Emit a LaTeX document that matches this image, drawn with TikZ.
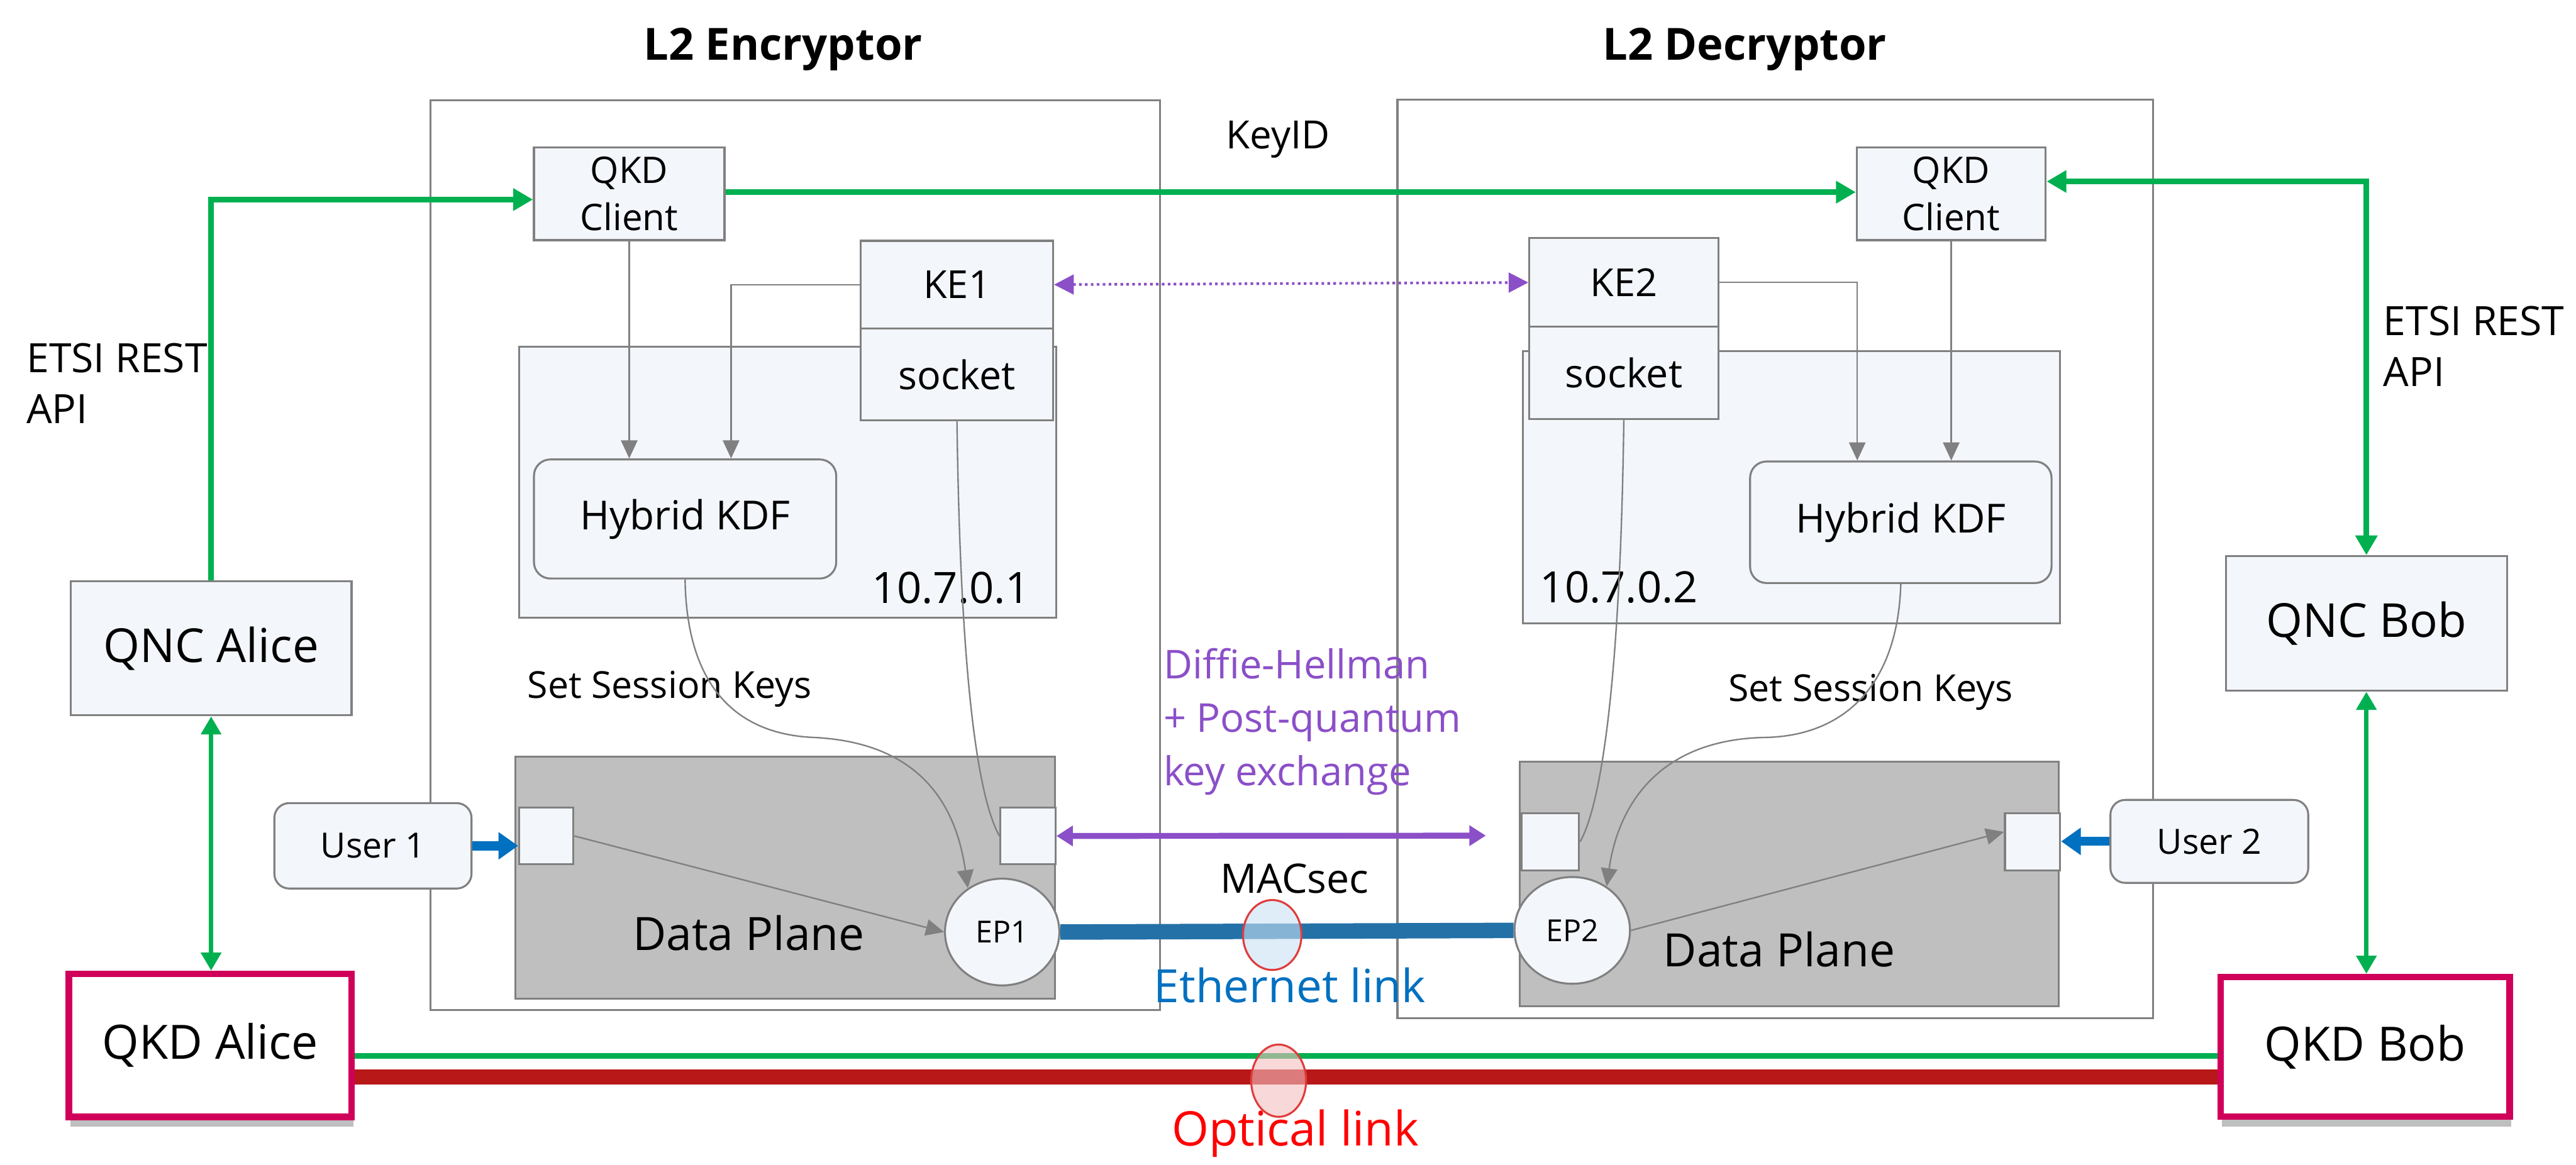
\documentclass[tikz,border=0pt]{standalone}
\usepackage{fontspec}
\setmainfont{Open Sans}
\usetikzlibrary{arrows.meta,shadows,calc,shapes.geometric}
\definecolor{boxfill}{HTML}{F3F6FB}
\definecolor{boxline}{HTML}{808080}
\definecolor{dpfill}{HTML}{BFBFBF}
\definecolor{qgreen}{HTML}{00B050}
\definecolor{qpurple}{HTML}{8B4FC8}
\definecolor{ublue}{HTML}{0070C0}
\definecolor{ethblue}{HTML}{2471A8}
\definecolor{optred}{HTML}{B81818}
\definecolor{qkdred}{HTML}{D0005A}
\definecolor{markred}{HTML}{E03C3C}
\newcommand{\setfs}[2]{\fontsize{#1}{#2}\selectfont}
\begin{document}
\begin{tikzpicture}[x=1pt,y=-1pt,
  obox/.style={draw=boxline, line width=1.2pt, rectangle, inner sep=0pt},
  box/.style={draw=boxline, line width=1.2pt, fill=boxfill, rectangle, inner sep=0pt},
  dpbox/.style={draw=boxline, line width=1.2pt, fill=dpfill, rectangle, inner sep=0pt},
  qkdbox/.style={draw=qkdred, line width=4pt, fill=white, rectangle, inner sep=0pt,
    drop shadow={shadow xshift=1pt, shadow yshift=-6pt, opacity=0.25, fill=black},
    font=\setfs{28.8}{33}},
  lbl/.style={inner sep=0pt},
  titlefont/.style={inner sep=0pt, font=\bfseries\setfs{27}{32}},
  gline/.style={draw=boxline, line width=0.9pt},
  garr/.style={-{Triangle[width=10pt,length=11pt]}},
  greenline/.style={draw=qgreen, line width=3.4pt},
]
\useasboundingbox (0,0) rectangle (1568,709);

% outer boxes and titles
\node[obox, minimum width=444pt, minimum height=554pt] (enc) at (484,338) {};
\node[obox, minimum width=460pt, minimum height=559.5pt] (dec) at (1080.6,340.3) {};
\node[titlefont] (encT) at (476.6,30) {L2 Encryptor};
\node[titlefont] (decT) at (1062,30) {L2 Decryptor};
\node[lbl, font=\setfs{23.7}{28}] (keyid) at (778,85) {KeyID};

% inner regions
\node[box, minimum width=327pt, minimum height=165pt] (regL) at (479.5,293.5) {};
\node[box, minimum width=327pt, minimum height=165.5pt] (regR) at (1090.5,296.7) {};
\node[box, rounded corners=10pt, minimum width=184pt, minimum height=72.5pt, font=\setfs{24.4}{28}] (hkdfL) at (417,316) {Hybrid KDF};
\node[box, rounded corners=10pt, minimum width=183.5pt, minimum height=74pt, font=\setfs{24.4}{28}] (hkdfR) at (1157,318) {Hybrid KDF};
\node[lbl, font=\setfs{26.3}{30}] (ipL) at (579,358) {10.7.0.1};
\node[lbl, font=\setfs{26.3}{30}] (ipR) at (985.5,357.7) {10.7.0.2};

\node[box, minimum width=116pt, minimum height=56.5pt, align=center, font=\setfs{22.3}{29}] (qkdcL) at (383,118) {QKD\\Client};
\node[box, minimum width=115pt, minimum height=56.5pt, align=center, font=\setfs{22.3}{29}] (qkdcR) at (1187.7,118) {QKD\\Client};
\node[box, minimum width=117pt, minimum height=53.4pt, font=\setfs{23.5}{28}] (ke1) at (582.5,173.3) {KE1};
\node[box, minimum width=117pt, minimum height=56pt, font=\setfs{24}{28}] (sock1) at (582.5,228) {socket};
\node[box, minimum width=115pt, minimum height=54.3pt, font=\setfs{23.5}{28}] (ke2) at (988.4,172) {KE2};
\node[box, minimum width=115pt, minimum height=56pt, font=\setfs{24}{28}] (sock2) at (988.4,227) {socket};

% QNC / QKD
\node[box, minimum width=171pt, minimum height=81.6pt, font=\setfs{28.5}{33}] (qncA) at (128.5,394.8) {QNC Alice};
\node[box, minimum width=171pt, minimum height=82pt, font=\setfs{28.5}{33}] (qncB) at (1440.4,379.6) {QNC Bob};

% data planes
\node[dpbox, minimum width=328.5pt, minimum height=147.4pt] (dpL) at (478,534.3) {};
\node[dpbox, minimum width=328pt, minimum height=149pt] (dpR) at (1089,538.3) {};
\node[lbl, font=\setfs{28}{32}] (dpLt) at (455.7,568) {Data Plane};
\node[lbl, font=\setfs{28}{32}] (dpRt) at (1083,578) {Data Plane};
\node[box, minimum width=33pt, minimum height=34.5pt] (pL1) at (332.5,509) {};
\node[box, minimum width=33.5pt, minimum height=34.5pt] (pL2) at (625.7,509) {};
\node[box, minimum width=35pt, minimum height=35pt] (pR1) at (943.7,512.5) {};
\node[box, minimum width=33.6pt, minimum height=35pt] (pR2) at (1237.2,512.5) {};
\node[box, ellipse, minimum width=69.6pt, minimum height=65pt, font=\setfs{18.5}{22}] (ep1) at (610,567.5) {EP1};
\node[box, ellipse, minimum width=70.3pt, minimum height=65pt, font=\setfs{18.5}{22}] (ep2) at (957,566.5) {EP2};

\node[box, rounded corners=9pt, minimum width=120pt, minimum height=52pt, font=\setfs{21.2}{25}] (user1) at (227,515) {User 1};
\node[box, rounded corners=9pt, minimum width=120.4pt, minimum height=50.5pt, font=\setfs{21.2}{25}] (user2) at (1344.8,512.3) {User 2};

% labels
\node[lbl, font=\setfs{22.6}{26}] (sskL) at (407.5,419.6) {Set Session Keys};
\node[lbl, font=\setfs{22.6}{26}] (sskR) at (1138.6,421.6) {Set Session Keys};
\node[lbl, anchor=west, align=left, font=\setfs{24.6}{31}] (etsiL) at (16,233.5) {ETSI REST\\API};
\node[lbl, anchor=west, align=left, font=\setfs{24.6}{31}] (etsiR) at (1450.6,211) {ETSI REST\\API};
\node[lbl, anchor=west, align=left, text=qpurple, font=\setfs{24.2}{32.5}] (dh) at (708,439.5) {Diffie-Hellman\\+ Post-quantum\\key exchange};
\node[lbl, font=\setfs{24.7}{28}] (macsec) at (788,535) {MACsec};
\node[lbl, text=ublue, font=\setfs{27.9}{32}] (ethT) at (785,600) {Ethernet link};
\node[lbl, text=red, font=\setfs{29}{33}] (optT) at (788.5,690) {Optical link};

% QKD devices
\node[qkdbox, minimum width=172pt, minimum height=87pt] (qkdA) at (128,636.5) {QKD Alice};
\node[qkdbox, minimum width=176pt, minimum height=85pt] (qkdB) at (1439.6,637.4) {QKD Bob};

% links between QKD devices
\coordinate (grA) at ($(qkdA.east)+(0,6.5)$);
\draw[greenline] (grA) -- (grA -| qkdB.west);
\coordinate (optA) at ($(qkdA.east)+(0,19.2)$);
\draw[optred, line width=9.4pt] (optA) -- (optA -| qkdB.west);
\node[ellipse, draw=markred, line width=1.2pt, fill={rgb,255:red,244;green,190;blue,190}, fill opacity=0.6, minimum width=33.4pt, minimum height=44pt, inner sep=0pt] (optM) at (778.3,658) {};

% Ethernet link
\draw[ethblue, line width=9.4pt] (ep1.east) -- (ep2.west);
\node[ellipse, draw=markred, line width=1.2pt, fill={rgb,255:red,200;green,225;blue,243}, fill opacity=0.6, minimum width=35.6pt, minimum height=42.6pt, inner sep=0pt] (ethM) at (774.4,569.3) {};

% green ETSI connections
\coordinate (gA1) at ($(qkdcL.west)+(0,3.5)$);
\draw[greenline, -{Triangle[width=13pt,length=12pt]}] (qncA.north) |- (gA1);
\coordinate (gk1) at ($(qkdcL.east)+(0,-1)$);
\draw[greenline, -{Triangle[width=13pt,length=12pt]}] (gk1) -- (gk1 -| qkdcR.west);
\coordinate (gB1) at ($(qkdcR.east)+(0,-7.5)$);
\draw[greenline, {Triangle[width=13pt,length=12pt]}-{Triangle[width=13pt,length=12pt]}] (gB1) -| (qncB.north);
\draw[draw=qgreen, line width=2.6pt, {Triangle[width=12pt,length=11pt]}-{Triangle[width=12pt,length=11pt]}] (qncA.south) -- (qncA.south |- qkdA.north);
\draw[draw=qgreen, line width=2.6pt, {Triangle[width=12pt,length=11pt]}-{Triangle[width=12pt,length=11pt]}] (qncB.south) -- (qncB.south |- qkdB.north);

% purple key exchange
\draw[qpurple, line width=1.6pt, dotted, {Triangle[width=12pt,length=12pt]}-{Triangle[width=12pt,length=12pt]}] (ke1.east) -- (ke2.west);
\coordinate (dhend) at (904.4,508.8);
\draw[qpurple, line width=3.6pt, {Triangle[width=12pt,length=10pt]}-{Triangle[width=12pt,length=10pt]}] (pL2.east) -- (dhend);

% users
\draw[ublue, line width=5.5pt, -{Triangle[width=16pt,length=12pt]}] (user1.east) -- (user1.east -| pL1.west);
\draw[ublue, line width=5.5pt, -{Triangle[width=16pt,length=12pt]}] (user2.west) -- (user2.west -| pR2.east);

% gray internal connectors
\draw[gline, garr] (qkdcL.south) -- (qkdcL.south |- hkdfL.north);
\coordinate (kL) at ($(hkdfL.north)+(28,0)$);
\draw[gline, garr] (ke1.west) -| (kL);
\coordinate (kR) at ($(hkdfR.north)+(-26.5,0)$);
\draw[gline, garr] (ke2.east) -| (kR);
\draw[gline, garr] (qkdcR.south) -- (qkdcR.south |- hkdfR.north);

\draw[gline] (sock1.south) .. controls +(2,150) and +(-14,-25) .. (pL2.west);
\draw[gline] (sock2.south) .. controls +(-2,150) and +(14,-25) .. (pR1.east);
\draw[gline, garr] (hkdfL.south) .. controls (418,420) and (450,447) .. (495,449) .. controls (560,452) and (582,490) .. (ep1.128);
\draw[gline, garr] (hkdfR.south) .. controls (1155,420) and (1120,448) .. (1075,449) .. controls (1010,450) and (985,490) .. (ep2.52);
\draw[gline, garr] (pL1.east) -- (ep1.west);
\coordinate (pR2t) at ($(pR2.west)+(0,-6)$);
\draw[gline, garr] (ep2.east) -- (pR2t);
\end{tikzpicture}
\end{document}
